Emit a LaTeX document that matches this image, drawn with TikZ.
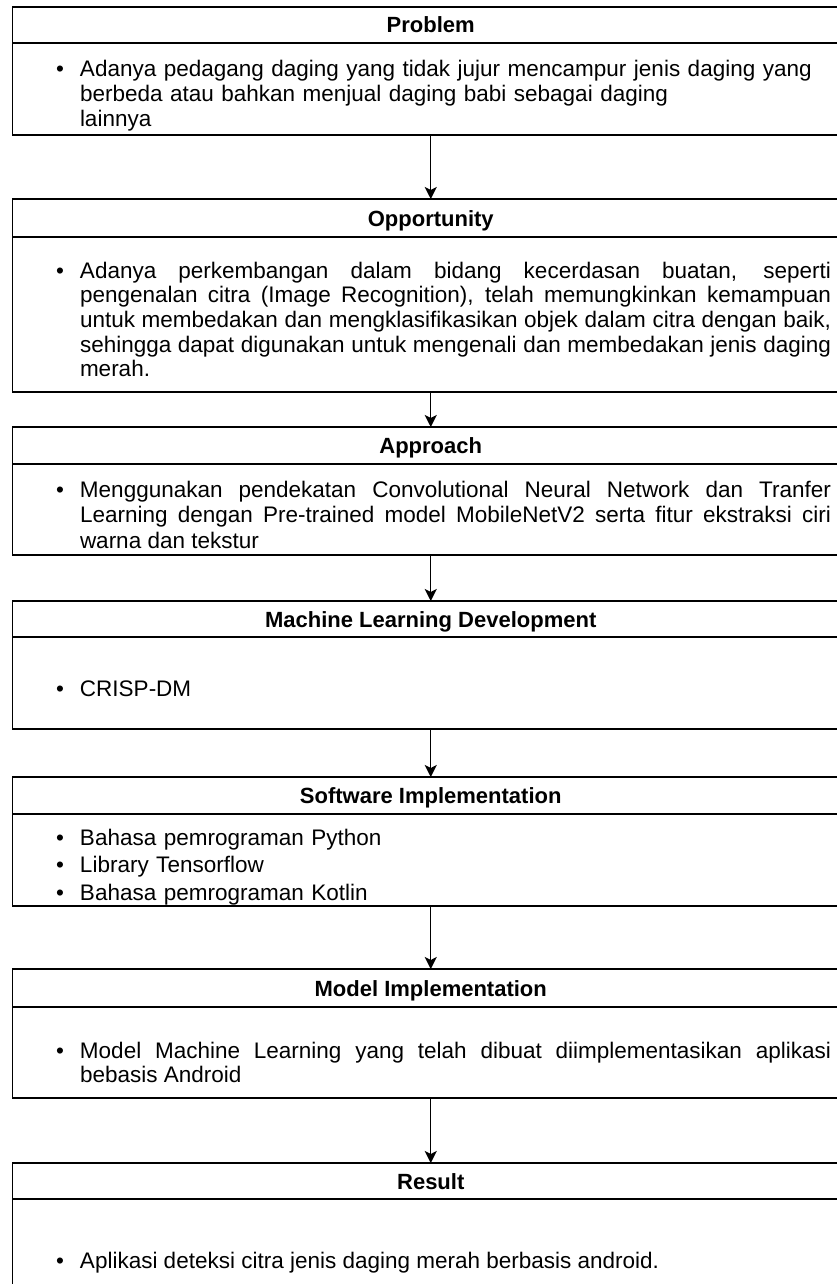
\documentclass[tikz,border=0pt]{standalone}
\usepackage{fontspec}
\setmainfont{Liberation Sans}
\usetikzlibrary{arrows.meta}
\newcommand{\bul}{\leavevmode\llap{•\hspace{16pt}}}
\begin{document}
\begin{tikzpicture}[x=1pt,y=-1pt,
  box/.style={draw=black, line width=1.4pt, minimum width=836.5pt, inner sep=0pt, outer sep=0pt, anchor=north west},
  head/.style={box, font=\fontsize{22}{26}\selectfont\bfseries, text height=16pt, text depth=0pt},
  body/.style={box},
  txt/.style={anchor=base west, inner sep=0pt, outer sep=0pt, text width=751pt, align=justify, font=\fontsize{22.5}{24.7}\selectfont},
  arr/.style={line width=1.4pt, -{Stealth[length=12pt,width=12pt,inset=3pt]}}]
\useasboundingbox (0,0) rectangle (837,1284);

% Problem
\node[head, minimum height=36pt] (h1) at (12.5,7) {Problem};
\node[body, minimum height=92pt] (b1) at (12.5,43) {};
\node[txt, align=left] (t1) at (80,77) {\bul Adanya pedagang daging yang tidak jujur mencampur jenis daging yang\\ berbeda atau bahkan menjual daging babi sebagai daging\\ lainnya};

% Opportunity
\node[head, minimum height=38pt] (h2) at (12.5,199) {Opportunity};
\node[body, minimum height=155pt] (b2) at (12.5,237) {};
\node[txt] (t2) at (80,278) {\noindent\bul Adanya perkembangan dalam bidang kecerdasan buatan, seperti\linebreak pengenalan citra (Image Recognition), telah memungkinkan kemampuan\linebreak untuk membedakan dan mengklasifikasikan objek dalam citra dengan baik,\linebreak sehingga dapat digunakan untuk mengenali dan membedakan jenis daging\linebreak merah.};

% Approach
\node[head, minimum height=37pt] (h3) at (12.5,427) {Approach};
\node[body, minimum height=91pt] (b3) at (12.5,464) {};
\node[txt, font=\fontsize{22.5}{25.5}\selectfont] (t3) at (80,497) {\noindent\bul Menggunakan pendekatan Convolutional Neural Network dan Tranfer\linebreak Learning dengan Pre-trained model MobileNetV2 serta fitur ekstraksi ciri\linebreak warna dan tekstur};

% Machine Learning Development
\node[head, minimum height=36pt] (h4) at (12.5,601) {Machine Learning Development};
\node[body, minimum height=92pt] (b4) at (12.5,637) {};
\node[txt] (t4) at (80,696) {\noindent\bul CRISP-DM};

% Software Implementation
\node[head, minimum height=37pt] (h5) at (12.5,777) {Software Implementation};
\node[body, minimum height=92pt] (b5) at (12.5,814) {};
\node[txt, align=left, font=\fontsize{22.5}{27.5}\selectfont] (t5) at (80,845) {\parskip=0pt\noindent\bul Bahasa pemrograman Python\par\noindent\bul Library Tensorflow\par\noindent\bul Bahasa pemrograman Kotlin};

% Model Implementation
\node[head, minimum height=38pt] (h6) at (12.5,969) {Model Implementation};
\node[body, minimum height=91pt] (b6) at (12.5,1007) {};
\node[txt] (t6) at (80,1058) {\noindent\bul Model Machine Learning yang telah dibuat diimplementasikan aplikasi\linebreak bebasis Android};

% Result
\node[head, minimum height=36pt] (h7) at (12.5,1163) {Result};
\node[body, minimum height=140pt] (b7) at (12.5,1199) {};
\node[txt] (t7) at (80,1268) {\noindent\bul Aplikasi deteksi citra jenis daging merah berbasis android.};

% connectors
\draw[arr] (b1.south) -- (h2.north);
\draw[arr] (b2.south) -- (h3.north);
\draw[arr] (b3.south) -- (h4.north);
\draw[arr] (b4.south) -- (h5.north);
\draw[arr] (b5.south) -- (h6.north);
\draw[arr] (b6.south) -- (h7.north);
\end{tikzpicture}
\end{document}
